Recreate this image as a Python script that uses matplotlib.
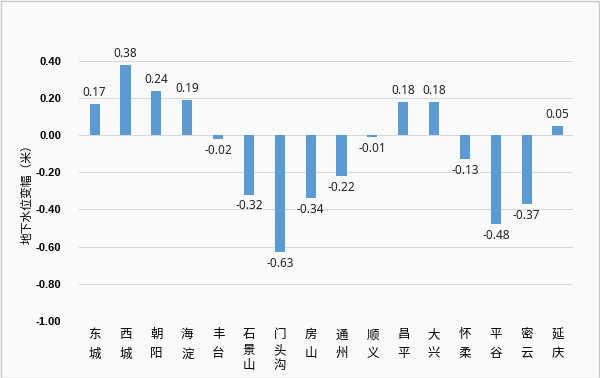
import numpy as np
import matplotlib.pyplot as plt

# 各区地下水位变幅
districts = ["东城", "西城", "朝阳", "海淀", "丰台", "石景山", "门头沟", "房山",
             "通州", "顺义", "昌平", "大兴", "怀柔", "平谷", "密云", "延庆"]
change = [0.17, 0.38, 0.24, 0.19, -0.02, -0.32, -0.63, -0.34,
          -0.22, -0.01, 0.18, 0.18, -0.13, -0.48, -0.37, 0.05]
yticks = [-1.0, -0.8, -0.6, -0.4, -0.2, 0.0, 0.2, 0.4]

plt.rcParams['font.family'] = ['Noto Sans', 'Noto Sans CJK SC', 'DejaVu Sans']

bg = "#F9FBFB"
fig = plt.figure(figsize=(6, 3.78), dpi=100, facecolor=bg)
ax = fig.add_axes([0.132, 0.151, 0.823, 0.688])
ax.set_facecolor(bg)

x = np.arange(len(districts))
ax.bar(x, change, width=0.33, color="#5B9BD5", zorder=3)

for xi, v in zip(x, change):
    if v >= 0:
        ax.text(xi, v + 0.025, f"{v:.2f}", ha="center", va="bottom", fontsize=8.5, color="#222222")
    else:
        ax.text(xi, v - 0.025, f"{v:.2f}", ha="center", va="top", fontsize=8.5, color="#222222")

ax.set_xlim(-0.5, len(districts) - 0.5)
ax.set_ylim(-1.0, 0.4)
ax.set_yticks(yticks)
ax.set_yticklabels([f"{t:.2f}" for t in yticks], fontsize=8, fontweight="bold",
                   family="Liberation Sans")
ax.grid(axis="y", color="#D9D9D9", linewidth=0.8, zorder=0)
ax.tick_params(axis="y", length=0, pad=13)

# 竖排的区名
ax.set_xticks(x)
ax.set_xticklabels([])
ax.tick_params(axis="x", length=0)
for xi, name in zip(x, districts):
    ls = 1.25 if len(name) == 3 else 1.6
    ax.text(xi, -1.04, "\n".join(name), ha="center", va="top", fontsize=9,
            family="Noto Sans CJK SC", linespacing=ls, transform=ax.transData)

for s in ax.spines.values():
    s.set_visible(False)

ax.set_ylabel("地下水位变幅（米）", family="Noto Sans CJK SC", fontsize=8.5)
ax.yaxis.set_label_coords(-0.092, 0.5)

# 外框
fig.patches.append(plt.Rectangle((0.001, 0.001), 0.997, 0.996, transform=fig.transFigure,
                                 fill=False, edgecolor="#C8C8C8", linewidth=1))

plt.savefig("out.png", dpi=100, facecolor=bg)
